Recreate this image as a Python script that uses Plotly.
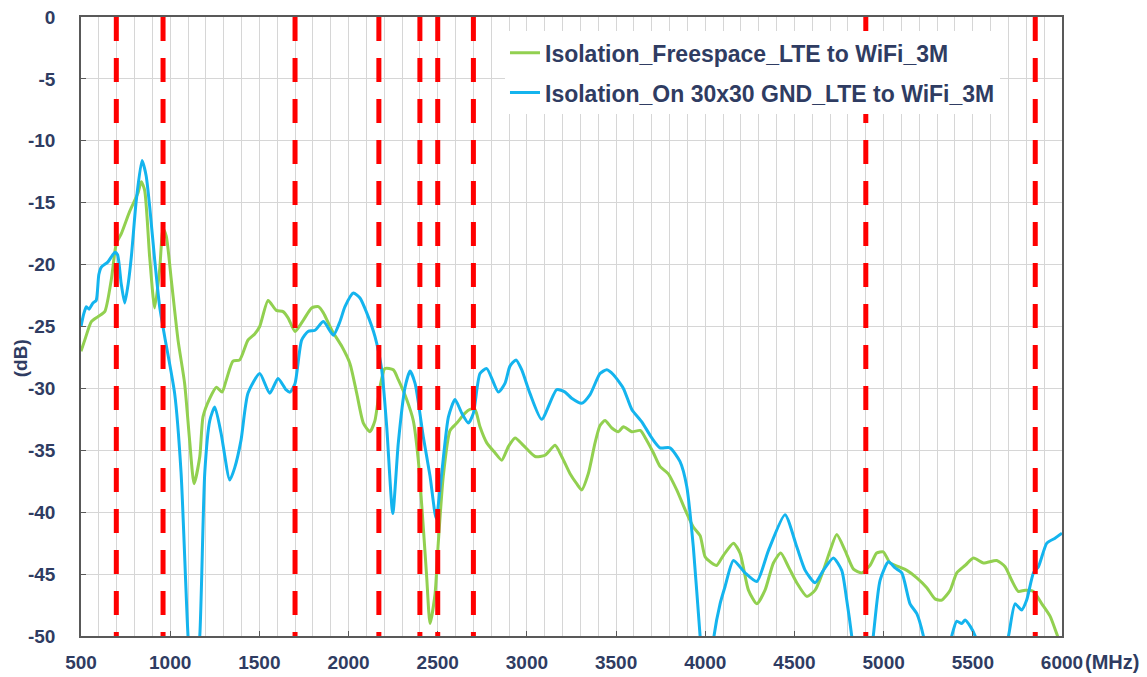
import plotly.graph_objects as go

# ---------------- data ----------------
freq_green = [500, 521, 558, 595, 633, 670, 698, 726, 773, 820, 838, 857, 885, 913, 941, 960, 978, 1006,
              1044, 1081, 1109, 1134, 1166, 1184, 1222, 1259, 1291, 1315, 1352, 1390, 1436, 1474, 1502,
              1549, 1595, 1633, 1661, 1700, 1746, 1793, 1831, 1859, 1906, 1962, 2008, 2046, 2083, 2120,
              2148, 2176, 2204, 2251, 2279, 2326, 2363, 2391, 2419, 2438, 2457, 2485, 2503, 2531, 2569,
              2607, 2653, 2681, 2709, 2737, 2775, 2821, 2859, 2896, 2934, 2980, 3046, 3102, 3158, 3195,
              3242, 3279, 3307, 3344, 3382, 3410, 3438, 3476, 3513, 3541, 3588, 3635, 3672, 3709, 3746,
              3793, 3840, 3887, 3933, 3971, 3999, 4036, 4064, 4101, 4158, 4195, 4242, 4289, 4335, 4382,
              4423, 4466, 4513, 4569, 4616, 4662, 4700, 4737, 4784, 4831, 4877, 4924, 4961, 4998, 5036,
              5083, 5130, 5186, 5242, 5288, 5326, 5373, 5410, 5457, 5504, 5559, 5634, 5681, 5718, 5755,
              5793, 5840, 5887, 5933, 5970, 6000]
iso_freespace = [-27.0, -26.1, -24.6, -24.2, -23.8, -21.2, -18.3, -17.5, -15.7, -14.2, -13.3, -14.0, -19.4,
                 -23.5, -20.4, -17.1, -17.7, -21.2, -26.1, -29.6, -34.2, -37.7, -35.5, -32.3, -30.8, -29.9,
                 -30.3, -29.3, -27.8, -27.7, -26.1, -25.6, -25.0, -22.9, -23.7, -23.8, -24.3, -25.4, -24.5,
                 -23.5, -23.4, -23.9, -25.3, -26.6, -28.0, -30.4, -32.8, -33.5, -32.6, -29.9, -28.4, -28.5,
                 -29.3, -30.9, -32.6, -35.8, -41.2, -45.2, -49.0, -46.6, -42.5, -37.1, -33.4, -32.8, -32.0,
                 -31.7, -31.7, -33.1, -34.4, -35.2, -35.8, -34.7, -34.0, -34.6, -35.5, -35.4, -34.6, -35.5,
                 -36.9, -37.7, -38.2, -36.9, -34.4, -33.0, -32.6, -33.2, -33.5, -33.1, -33.5, -33.4, -34.2,
                 -35.2, -36.3, -36.9, -38.2, -39.8, -41.2, -41.9, -43.6, -44.1, -44.3, -43.5, -42.5, -43.3,
                 -46.3, -47.4, -46.3, -44.1, -43.3, -44.4, -45.7, -46.8, -46.3, -44.7, -43.1, -41.8, -43.1,
                 -44.6, -44.9, -44.3, -43.3, -43.2, -44.1, -44.4, -44.7, -45.3, -46.1, -47.0, -47.1, -46.3,
                 -44.9, -44.3, -43.7, -44.1, -43.9, -44.4, -45.5, -46.4, -46.3, -46.4, -47.4, -48.4, -49.8,
                 -51.0]

freq_blue = [500, 515, 530, 545, 567, 585, 600, 614, 650, 690, 705, 725, 745, 765, 782, 810, 842, 865, 885,
             913, 941, 969, 1025, 1061, 1100, 1130, 1166, 1194, 1222, 1250, 1285, 1334, 1362, 1397, 1436,
             1502, 1558, 1605, 1649, 1672, 1700, 1737, 1773, 1812, 1859, 1915, 1952, 1980, 2027, 2064, 2102,
             2148, 2186, 2214, 2248, 2279, 2317, 2345, 2373, 2419, 2457, 2491, 2522, 2560, 2597, 2635, 2672,
             2700, 2737, 2775, 2840, 2877, 2905, 2939, 2971, 3017, 3083, 3167, 3214, 3251, 3307, 3354, 3410,
             3448, 3485, 3541, 3588, 3644, 3700, 3746, 3802, 3858, 3896, 3933, 3971, 4010, 4049, 4083, 4111,
             4158, 4223, 4289, 4354, 4447, 4513, 4560, 4616, 4662, 4718, 4765, 4793, 4821, 4880, 4942, 4980,
             5027, 5064, 5102, 5148, 5186, 5223, 5300, 5382, 5410, 5438, 5457, 5485, 5513, 5600, 5700, 5737,
             5774, 5802, 5840, 5868, 5915, 5961, 6000]
iso_on_gnd = [-25.0, -24.0, -23.4, -23.6, -23.1, -22.9, -20.8, -20.2, -19.8, -19.0, -19.2, -21.5, -23.1,
              -21.5, -19.4, -14.8, -11.6, -12.8, -15.3, -19.6, -23.4, -25.8, -30.4, -36.8, -50.0, -56.0,
              -50.0, -36.8, -32.6, -31.5, -33.6, -37.4, -36.4, -34.2, -30.4, -28.8, -30.4, -29.2, -30.1,
              -30.3, -29.6, -26.1, -25.4, -25.3, -24.6, -25.7, -24.6, -23.4, -22.3, -22.7, -23.9, -25.8,
              -28.5, -33.1, -40.1, -34.4, -29.9, -28.6, -29.6, -33.9, -37.1, -40.5, -36.9, -32.3, -30.9,
              -32.0, -32.8, -32.0, -28.8, -28.4, -30.3, -29.6, -28.2, -27.7, -28.5, -30.4, -32.5, -30.1,
              -30.3, -30.8, -31.2, -30.5, -28.8, -28.5, -28.9, -30.0, -31.7, -32.7, -34.0, -34.8, -34.8,
              -35.9, -37.9, -42.8, -50.0, -56.0, -50.0, -47.4, -46.0, -43.9, -44.9, -45.6, -43.1, -40.2,
              -42.8, -44.7, -45.7, -44.7, -43.7, -44.7, -47.1, -50.0, -58.0, -50.0, -45.5, -44.0, -44.5,
              -44.9, -47.4, -48.2, -50.0, -56.0, -50.0, -48.8, -49.0, -48.7, -49.2, -50.0, -56.0, -50.0,
              -47.4, -47.9, -47.1, -44.9, -44.4, -42.5, -42.1, -41.7]

band_edges_mhz = [698, 960, 1700, 2170, 2400, 2500, 2700, 4900, 5850]

x_tick_vals = [500, 1000, 1500, 2000, 2500, 3000, 3500, 4000, 4500, 5000, 5500, 6000]
x_tick_text = ["500", "1000", "1500", "2000", "2500", "3000", "3500", "4000", "4500", "5000", "5500", "6000"]
y_tick_vals = [0, -5, -10, -15, -20, -25, -30, -35, -40, -45, -50]
y_tick_text = ["0", "-5", "-10", "-15", "-20", "-25", "-30", "-35", "-40", "-45", "-50"]

series_names = ["Isolation_Freespace_LTE to WiFi_3M", "Isolation_On 30x30 GND_LTE to WiFi_3M"]

# ---------------- styling ----------------
NAVY = "#2F3C62"
GREEN = "#92D050"
BLUE = "#14B4EE"
AXIS = "#595959"
GRID = "#D6D6D6"
FONT = "Arial, Liberation Sans, sans-serif"

fig = go.Figure()
fig.add_trace(go.Scatter(x=freq_green, y=iso_freespace, mode="lines", name=series_names[0],
                         legendgroup="g1", line=dict(color=GREEN, width=3, shape="spline", smoothing=0.6)))
fig.add_trace(go.Scatter(x=freq_blue, y=iso_on_gnd, mode="lines", name=series_names[1],
                         legendgroup="g2", line=dict(color=BLUE, width=3, shape="spline", smoothing=0.6)))

for f in band_edges_mhz:
    fig.add_shape(type="line", xref="x", yref="y", x0=f, x1=f, y0=0, y1=-50, layer="above",
                  line=dict(color="#FF0000", width=5, dash="24px,17px"))

fig.update_layout(
    width=1147, height=677,
    margin=dict(l=81, r=85, t=17, b=41),
    paper_bgcolor="white", plot_bgcolor="white",
    font=dict(family=FONT, color=NAVY),
    showlegend=True,
    legend=dict(x=0.4322, y=0.977, xanchor="left", yanchor="top", bgcolor="white",
                borderwidth=0, traceorder="grouped", tracegroupgap=7,
                font=dict(family=FONT, size=23, color=NAVY, weight="bold")),
    xaxis=dict(range=[500, 6000], tickmode="array", tickvals=x_tick_vals, ticktext=x_tick_text,
               showgrid=True, gridcolor=GRID, gridwidth=1, automargin=False,
               minor=dict(dtick=100, showgrid=True, gridcolor=GRID, gridwidth=1),
               showline=True, linecolor=AXIS, linewidth=1.5, mirror=True,
               ticks="inside", ticklen=5, tickcolor=AXIS, ticklabelstandoff=8,
               tickfont=dict(family=FONT, size=19, color=NAVY, weight="bold"), zeroline=False),
    yaxis=dict(range=[-50, 0], tickmode="array", tickvals=y_tick_vals, ticktext=y_tick_text,
               showgrid=True, gridcolor=GRID, gridwidth=1, automargin=False,
               showline=True, linecolor=AXIS, linewidth=1.5, mirror=True,
               ticks="inside", ticklen=5, tickcolor=AXIS, ticklabelstandoff=20,
               tickfont=dict(family=FONT, size=19, color=NAVY, weight="bold"), zeroline=False),
    annotations=[
        dict(text="(MHz)", xref="paper", yref="paper", x=1.0214, y=-0.042, xanchor="left", yanchor="middle",
             showarrow=False, font=dict(family=FONT, size=20, color=NAVY, weight="bold")),
        dict(text="(dB)", xref="paper", yref="paper", x=-0.062, y=0.449, xanchor="center", yanchor="middle",
             textangle=-90, showarrow=False, font=dict(family=FONT, size=19, color=NAVY, weight="bold")),
    ],
)

fig.write_html("out.html", config={"displayModeBar": False},
               post_script="document.body.style.margin='0';document.body.style.overflow='hidden';")
